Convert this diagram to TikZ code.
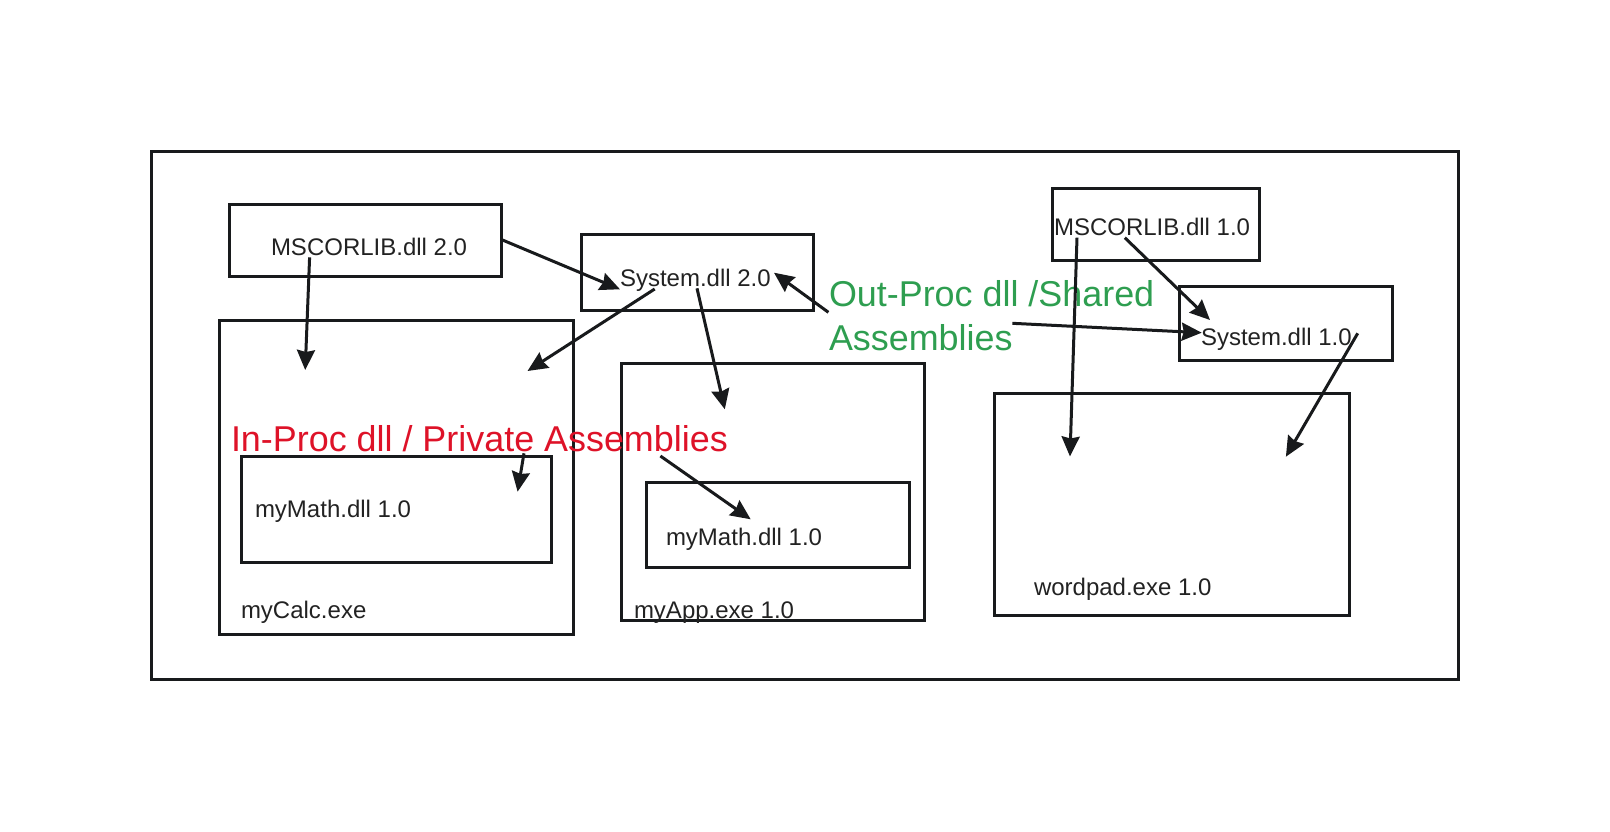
\documentclass[tikz,border=0pt]{standalone}
\usepackage{fontspec}
\setmainfont{Liberation Sans}
\usetikzlibrary{arrows.meta}
\definecolor{ink}{RGB}{24,26,28}
\definecolor{txt}{RGB}{34,34,34}
\definecolor{redlbl}{RGB}{222,18,40}
\definecolor{greenlbl}{RGB}{46,158,80}
\begin{document}
\begin{tikzpicture}[x=1pt,y=-1pt,
  box/.style={draw=ink,line width=3pt,inner sep=0pt,outer sep=0pt},
  lbl/.style={inner sep=0pt,outer sep=0pt,anchor=base west,text=txt,font=\fontsize{24}{28}\selectfont},
  big/.style={inner sep=0pt,outer sep=0pt,anchor=base west,font=\fontsize{35.9}{42}\selectfont},
  arr/.style={draw=ink,line width=3pt,-{Stealth[length=20pt,width=18pt,inset=2pt]}}]
\useasboundingbox (0,0) rectangle (1610,831);
% boxes
\node[box,minimum width=1307pt,minimum height=528pt] (outer) at (804.5,415) {};
\node[box,minimum width=272.3pt,minimum height=72.7pt] (ms2) at (365.45,240.35) {};
\node[box,minimum width=232pt,minimum height=76.7pt] (sys2) at (697,272.35) {};
\node[box,minimum width=353.5pt,minimum height=314pt] (calc) at (396.25,477.3) {};
\node[box,minimum width=303.7pt,minimum height=256.7pt] (app) at (772.85,491.65) {};
\node[box,minimum width=310pt,minimum height=106.7pt] (mathc) at (396,509.35) {};
\node[box,minimum width=263pt,minimum height=85.7pt] (matha) at (777.5,524.85) {};
\node[box,minimum width=207pt,minimum height=71.7pt] (ms1) at (1155.5,224.15) {};
\node[box,minimum width=212.5pt,minimum height=74.7pt] (sys1) at (1285.75,323.35) {};
\node[box,minimum width=355pt,minimum height=222.4pt] (word) at (1171.5,504.5) {};
% labels
\node[lbl] (ms2t) at (271,255) {MSCORLIB.dll 2.0};
\node[lbl] (sys2t) at (620,286.7) {System.dll 2.0};
\node[lbl] (mathct) at (255,517.3) {myMath.dll 1.0};
\node[lbl] (mathat) at (666,545.7) {myMath.dll 1.0};
\node[lbl] (calct) at (241,618.3) {myCalc.exe};
\node[lbl] (appt) at (634,618.3) {myApp.exe 1.0};
\node[lbl] (wordt) at (1034,595) {wordpad.exe 1.0};
\node[lbl] (ms1t) at (1054,235) {MSCORLIB.dll 1.0};
\node[lbl] (sys1t) at (1201,345) {System.dll 1.0};
\node[big,text=redlbl] (inproc) at (231,451.7) {In-Proc dll / Private Assemblies};
\node[big,text=greenlbl] (outproc1) at (829,306.7) {Out-Proc dll /Shared};
\node[big,text=greenlbl] (outproc2) at (829,350) {Assemblies};
% connector end points
\coordinate (a1s) at (309.6,257.3);  \coordinate (a1e) at (305.2,370);
\coordinate (a2s) at (502.5,240);    \coordinate (a2e) at (620,289.3);
\coordinate (a3s) at (654.7,289);    \coordinate (a3e) at (527.5,371);
\coordinate (a4s) at (697,288.3);    \coordinate (a4e) at (724.8,409.3);
\coordinate (a5s) at (828.4,312.3);  \coordinate (a5e) at (774,272.7);
\coordinate (a6s) at (524,453.3);    \coordinate (a6e) at (517.6,491.7);
\coordinate (a7s) at (660.4,456);    \coordinate (a7e) at (750.7,519.3);
\coordinate (a8s) at (1077,237.7);   \coordinate (a8e) at (1070,456.5);
\coordinate (a9s) at (1124.8,237.7); \coordinate (a9e) at (1210,320);
\coordinate (a10s) at (1012.4,323.3); \coordinate (a10e) at (1201.7,332.7);
\coordinate (a11s) at (1357.7,333.3); \coordinate (a11e) at (1285.9,456.7);
% connectors
\draw[arr] (a1s) -- (a1e);
\draw[arr] (a2s) -- (a2e);
\draw[arr] (a3s) -- (a3e);
\draw[arr] (a4s) -- (a4e);
\draw[arr] (a5s) -- (a5e);
\draw[arr] (a6s) -- (a6e);
\draw[arr] (a7s) -- (a7e);
\draw[arr] (a8s) -- (a8e);
\draw[arr] (a9s) -- (a9e);
\draw[arr] (a10s) -- (a10e);
\draw[arr] (a11s) -- (a11e);
\end{tikzpicture}
\end{document}
